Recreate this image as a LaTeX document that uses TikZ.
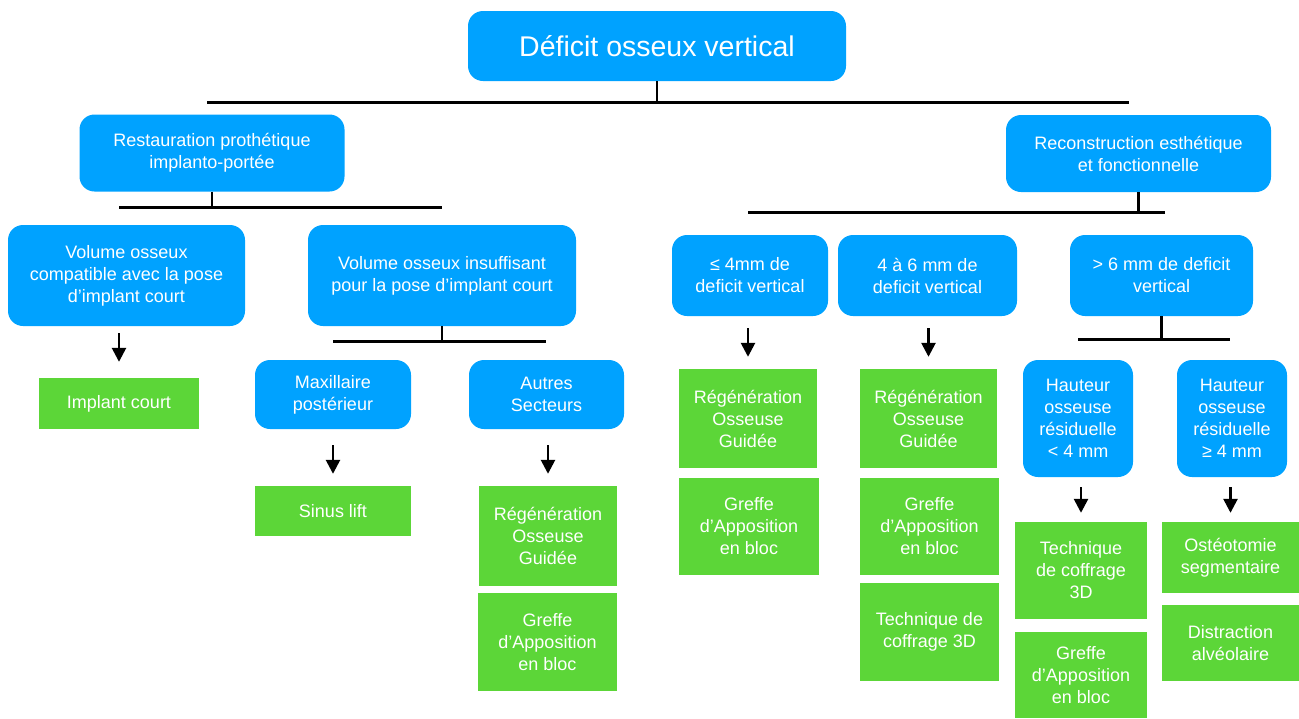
\documentclass[tikz,border=0pt]{standalone}
\usepackage{fontspec}
\setmainfont{Liberation Sans}
\usetikzlibrary{arrows.meta,calc}
\definecolor{bluebox}{HTML}{00A2FF}
\definecolor{greenbox}{HTML}{5CD638}
\tikzset{
  base/.style={text=white, align=center, inner sep=2pt, font=\fontsize{18}{22}\selectfont},
  bluenode/.style={base, fill=bluebox, rounded corners=15pt},
  greennode/.style={base, fill=greenbox},
  bar/.style={line width=3pt},
  stub/.style={line width=2.5pt},
  arr/.style={line width=2.6pt, -{Triangle[width=14pt,length=14pt]}},
}
\begin{document}
\begin{tikzpicture}[x=1pt,y=-1pt]
\useasboundingbox (0,0) rectangle (1299,718);
% blue boxes
\node[bluenode, minimum width=378pt, minimum height=70pt, font=\fontsize{28.5}{32}\selectfont] (top) at (657,46) {Déficit osseux vertical};
\node[bluenode, minimum width=265pt, minimum height=77pt] (rest) at (212,153) {Restauration prothétique\\implanto-portée};
\node[bluenode, minimum width=265pt, minimum height=77pt] (reco) at (1138.5,153.5) {Reconstruction esthétique\\et fonctionnelle};
\node[bluenode, minimum width=237pt, minimum height=101pt] (volc) at (126.5,275.5) {Volume osseux\\compatible avec la pose\\d’implant court};
\node[bluenode, minimum width=268pt, minimum height=101pt] (voli) at (442,275.5) {Volume osseux insuffisant\\pour la pose d’implant court};
\node[bluenode, minimum width=156pt, minimum height=81pt] (le4) at (750,275.5) {≤ 4mm de\\deficit vertical};
\node[bluenode, minimum width=179pt, minimum height=81pt] (q46) at (927.5,275.5) {4 à 6 mm de\\deficit vertical};
\node[bluenode, minimum width=183pt, minimum height=81pt] (gt6) at (1161.5,275.5) {> 6 mm de deficit\\vertical};
\node[bluenode, minimum width=156pt, minimum height=69pt] (maxi) at (333,394.5) {Maxillaire\\postérieur};
\node[bluenode, minimum width=155pt, minimum height=69pt] (autr) at (546.5,394.5) {Autres\\Secteurs};
\node[bluenode, minimum width=110pt, minimum height=117pt] (hlt) at (1078,418.5) {Hauteur\\osseuse\\résiduelle\\< 4 mm};
\node[bluenode, minimum width=110pt, minimum height=117pt] (hge) at (1232,418.5) {Hauteur\\osseuse\\résiduelle\\≥ 4 mm};
% green boxes
\node[greennode, minimum width=160pt, minimum height=51pt] (impc) at (119,403.5) {Implant court};
\node[greennode, minimum width=156pt, minimum height=50pt] (sinus) at (333,511) {Sinus lift};
\node[greennode, minimum width=138pt, minimum height=100pt] (rogA) at (548,536) {Régénération\\Osseuse\\Guidée};
\node[greennode, minimum width=139pt, minimum height=98pt] (grA) at (547.5,642) {Greffe\\d’Apposition\\en bloc};
\node[greennode, minimum width=138pt, minimum height=99pt] (rogB) at (748,418.5) {Régénération\\Osseuse\\Guidée};
\node[greennode, minimum width=140pt, minimum height=97pt] (grB) at (749,526.5) {Greffe\\d’Apposition\\en bloc};
\node[greennode, minimum width=137pt, minimum height=99pt] (rogC) at (928.5,418.5) {Régénération\\Osseuse\\Guidée};
\node[greennode, minimum width=139pt, minimum height=97pt] (grC) at (929.5,526.5) {Greffe\\d’Apposition\\en bloc};
\node[greennode, minimum width=139pt, minimum height=98pt] (tcC) at (929.5,632) {Technique de\\coffrage 3D};
\node[greennode, minimum width=132pt, minimum height=97pt] (tcD) at (1081,570.5) {Technique\\de coffrage\\3D};
\node[greennode, minimum width=132pt, minimum height=86pt] (grD) at (1081,675) {Greffe\\d’Apposition\\en bloc};
\node[greennode, minimum width=137pt, minimum height=71pt] (osteo) at (1230.5,557.5) {Ostéotomie\\segmentaire};
\node[greennode, minimum width=137pt, minimum height=76pt] (dist) at (1230.5,643) {Distraction\\alvéolaire};
% bars
\coordinate (b0l) at (207,102); \coordinate (b0r) at (1129,102);
\coordinate (b1l) at (119,207); \coordinate (b1r) at (442,207);
\coordinate (b2l) at (748,212); \coordinate (b2r) at (1165,212);
\coordinate (b3l) at (333,341); \coordinate (b3r) at (546,341);
\coordinate (b4l) at (1078,339); \coordinate (b4r) at (1230,339);
\draw[bar] (b0l) -- (b0r);
\draw[bar] (b1l) -- (b1r);
\draw[bar] (b2l) -- (b2r);
\draw[bar] (b3l) -- (b3r);
\draw[bar] (b4l) -- (b4r);
\draw[stub] (top.south) -- (top.south |- b0l);
\draw[stub] (rest.south) -- (rest.south |- b1l);
\draw[stub] (reco.south) -- (reco.south |- b2l);
\draw[stub] (voli.south) -- (voli.south |- b3l);
\draw[stub] (gt6.south) -- (gt6.south |- b4l);
% arrows
\draw[arr] ($(impc.north |- volc.south)+(0,7)$) -- ($(impc.north)+(0,-16)$);
\draw[arr] ($(sinus.north |- maxi.south)+(0,16)$) -- ($(sinus.north)+(0,-12)$);
\draw[arr] ($(rogA.north |- autr.south)+(0,16)$) -- ($(rogA.north)+(0,-12)$);
\draw[arr] ($(rogB.north |- le4.south)+(0,12)$) -- ($(rogB.north)+(0,-12)$);
\draw[arr] ($(rogC.north |- q46.south)+(0,12)$) -- ($(rogC.north)+(0,-12)$);
\draw[arr] ($(tcD.north |- hlt.south)+(0,10)$) -- ($(tcD.north)+(0,-9)$);
\draw[arr] ($(osteo.north |- hge.south)+(0,10)$) -- ($(osteo.north)+(0,-9)$);
\end{tikzpicture}
\end{document}
